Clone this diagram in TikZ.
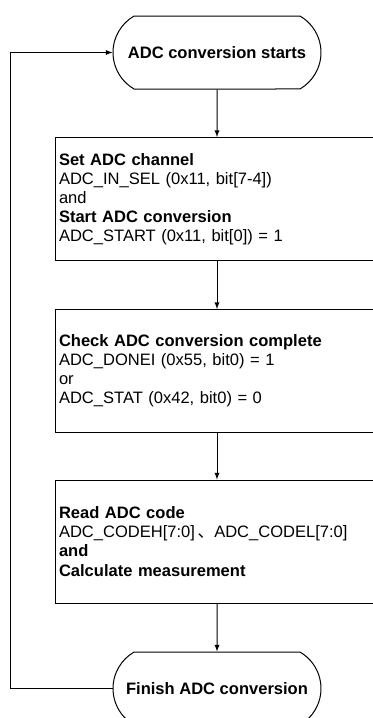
\documentclass[tikz,border=0pt]{standalone}
\usepackage{fontspec}
\setmainfont{Liberation Sans}
\newfontfamily\cjk{Noto Sans CJK SC}
\usepackage{tikz}
\usetikzlibrary{positioning, arrows, shapes.misc}
\newcommand\flowfont{\fontsize{12.4pt}{14.3pt}\selectfont}
\tikzset{term/.style={rounded rectangle, rounded rectangle arc length=120, draw, line width=0.75pt,
		minimum width=156pt, minimum height=54.75pt, inner sep=0pt, font=\flowfont\bfseries}}
\tikzset{stepbox/.style={rectangle, draw, line width=0.75pt, minimum width=243pt, minimum height=92.25pt,
		inner sep=3pt, text width=237pt, align=left, font=\flowfont}}
\tikzset{arr1/.style={draw, -latex, line width=0.75pt}}
\tikzset{loopline/.style={draw, line width=0.75pt}}

\begin{document}
\begin{tikzpicture}[x=0.75pt, y=-0.75pt]
	\useasboundingbox (0, 0) rectangle (373, 718);
	\node[term] (start) at (217, 52.5) {ADC conversion starts};
	\node[stepbox] (setch) at (217, 199) {\textbf{Set ADC channel}\\
		ADC\_IN\_SEL (0x11, bit[7-4])\\
		and\\
		\textbf{Start ADC conversion}\\
		ADC\_START (0x11, bit[0]) = 1};
	\node[stepbox] (check) at (217, 371) {\textbf{Check ADC conversion complete}\\
		ADC\_DONEI (0x55, bit0) = 1\\
		or\\
		ADC\_STAT (0x42, bit0) = 0};
	\node[stepbox] (readc) at (217, 541.5) {\textbf{Read ADC code}\\
		ADC\_CODEH[7:0]\,{\cjk 、}ADC\_CODEL[7:0]\\
		\textbf{and}\\
		\textbf{Calculate measurement}};
	\node[term] (finish) at (217, 688.5) {Finish ADC conversion};

	\draw[arr1] (start) to (setch);
	\draw[arr1] (setch) to (check);
	\draw[arr1] (check) to (readc);
	\draw[arr1] (readc) to (finish);

	% loop back to the start
	\coordinate (lb) at (10, 688.5);
	\coordinate (lt) at (10, 52.5);
	\draw[loopline] (finish.west) -- (lb) -- (lt);
	\draw[arr1] (lt) -- (start.west);
\end{tikzpicture}
\end{document}
